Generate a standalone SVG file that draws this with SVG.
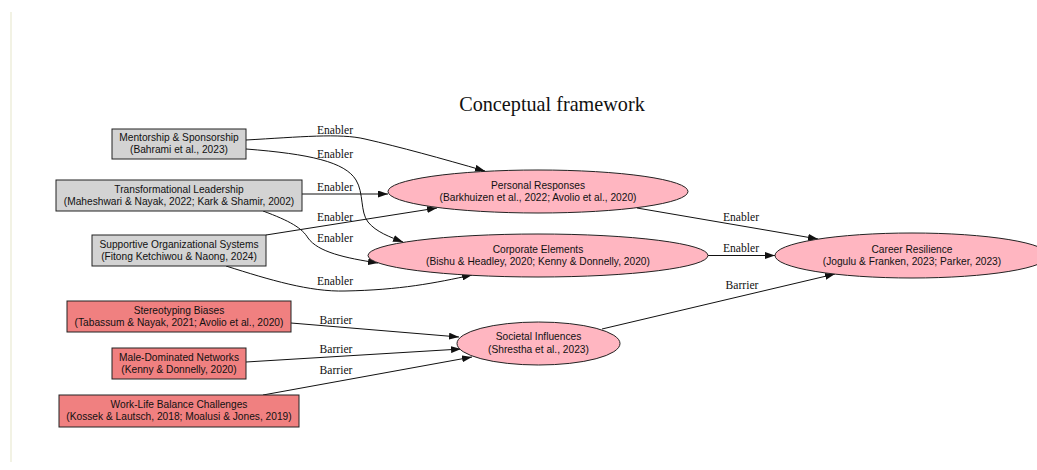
<svg xmlns="http://www.w3.org/2000/svg" width="1037" height="470" viewBox="0 0 1037 470">
<style>
.box{stroke:#222;stroke-width:1}
.g{fill:#d3d3d3}
.r{fill:#f08080}
.ell{fill:#ffb6c1;stroke:#222;stroke-width:1}
.nt{font-family:"Liberation Sans",Arial,sans-serif;font-size:10.2px;fill:#111;text-anchor:middle}
.el{font-family:"Liberation Serif","Times New Roman",serif;font-size:11.6px;fill:#111;text-anchor:middle}
.e{fill:none;stroke:#111;stroke-width:1;marker-end:url(#ah)}
</style>
<defs>
<marker id="ah" markerUnits="userSpaceOnUse" markerWidth="10" markerHeight="7" refX="10" refY="3.5" orient="auto">
<path d="M0,0 L10,3.5 L0,7 z" fill="#111"/>
</marker>
</defs>
<rect width="1037" height="470" fill="#fff"/>
<line x1="11" y1="12" x2="11" y2="462" stroke="#f2f2e4" stroke-width="2"/>
<text x="552" y="111" font-family="Liberation Serif,'Times New Roman',serif" font-size="20.2" text-anchor="middle" fill="#111">Conceptual framework</text>

<g id="connectors">
<path class="e" d="M246,140 C300,137 340,133 365,139 C400,147 440,158 485,171"/>
<path class="e" d="M246,149 C310,154 345,162 356,180 C364,193 360,212 368,222 C376,232 390,237 403,242"/>
<path class="e" d="M302,194 L388,194"/>
<path class="e" d="M263,211 C290,221 302,228 308,238 C318,252 345,258 378,263"/>
<path class="e" d="M266,235 L437,208"/>
<path class="e" d="M226,266 C270,280 310,292 345,291 C400,290 435,283 472,275"/>
<path class="e" d="M637,208 L818,239"/>
<path class="e" d="M708,255.5 L775,255.5"/>
<path class="e" d="M602,329 L835,274"/>
<path class="e" d="M291,323 L459,337"/>
<path class="e" d="M246,362 L461,349"/>
<path class="e" d="M263,395 L472,357"/>
<text class="el" x="335" y="134">Enabler</text>
<text class="el" x="335" y="158">Enabler</text>
<text class="el" x="335" y="191">Enabler</text>
<text class="el" x="335" y="221">Enabler</text>
<text class="el" x="335" y="242">Enabler</text>
<text class="el" x="335" y="285">Enabler</text>
<text class="el" x="336" y="324">Barrier</text>
<text class="el" x="336" y="353">Barrier</text>
<text class="el" x="336" y="374">Barrier</text>
<text class="el" x="741" y="221">Enabler</text>
<text class="el" x="741" y="252">Enabler</text>
<text class="el" x="742" y="289">Barrier</text>
</g>

<g id="mentorship">
<rect class="box g" x="112" y="129" width="134" height="30"/>
<text class="nt" x="179" y="141">Mentorship &amp; Sponsorship</text>
<text class="nt" x="179" y="153">(Bahrami et al., 2023)</text>
</g>
<g id="transformational">
<rect class="box g" x="56" y="180" width="246" height="31"/>
<text class="nt" x="179" y="192.5">Transformational Leadership</text>
<text class="nt" x="179" y="204.5">(Maheshwari &amp; Nayak, 2022; Kark &amp; Shamir, 2002)</text>
</g>
<g id="supportive">
<rect class="box g" x="92" y="235" width="174" height="31"/>
<text class="nt" x="179" y="247.5">Supportive Organizational Systems</text>
<text class="nt" x="179" y="259.5">(Fitong Ketchiwou &amp; Naong, 2024)</text>
</g>
<g id="stereotyping">
<rect class="box r" x="67" y="301" width="224" height="31"/>
<text class="nt" x="179" y="313.5">Stereotyping Biases</text>
<text class="nt" x="179" y="325.5">(Tabassum &amp; Nayak, 2021; Avolio et al., 2020)</text>
</g>
<g id="male">
<rect class="box r" x="112" y="348" width="134" height="31"/>
<text class="nt" x="179" y="360.5">Male-Dominated Networks</text>
<text class="nt" x="179" y="372.5">(Kenny &amp; Donnelly, 2020)</text>
</g>
<g id="worklife">
<rect class="box r" x="59" y="395" width="240" height="32"/>
<text class="nt" x="179" y="408">Work-Life Balance Challenges</text>
<text class="nt" x="179" y="420">(Kossek &amp; Lautsch, 2018; Moalusi &amp; Jones, 2019)</text>
</g>

<g id="personal">
<ellipse class="ell" cx="538" cy="191.5" rx="150" ry="21.5"/>
<text class="nt" x="538" y="188.5">Personal Responses</text>
<text class="nt" x="538" y="200.5">(Barkhuizen et al., 2022; Avolio et al., 2020)</text>
</g>
<g id="corporate">
<ellipse class="ell" cx="538" cy="255.5" rx="170" ry="21.5"/>
<text class="nt" x="538" y="252.5">Corporate Elements</text>
<text class="nt" x="538" y="264.5">(Bishu &amp; Headley, 2020; Kenny &amp; Donnelly, 2020)</text>
</g>
<g id="societal">
<ellipse class="ell" cx="538.5" cy="343.5" rx="81.5" ry="21.5"/>
<text class="nt" x="538.5" y="340">Societal Influences</text>
<text class="nt" x="538.5" y="352.5">(Shrestha et al., 2023)</text>
</g>
<g id="career">
<ellipse class="ell" cx="912" cy="255.5" rx="137" ry="22.5"/>
<text class="nt" x="912" y="252.5">Career Resilience</text>
<text class="nt" x="912" y="264.5">(Jogulu &amp; Franken, 2023; Parker, 2023)</text>
</g>
</svg>
